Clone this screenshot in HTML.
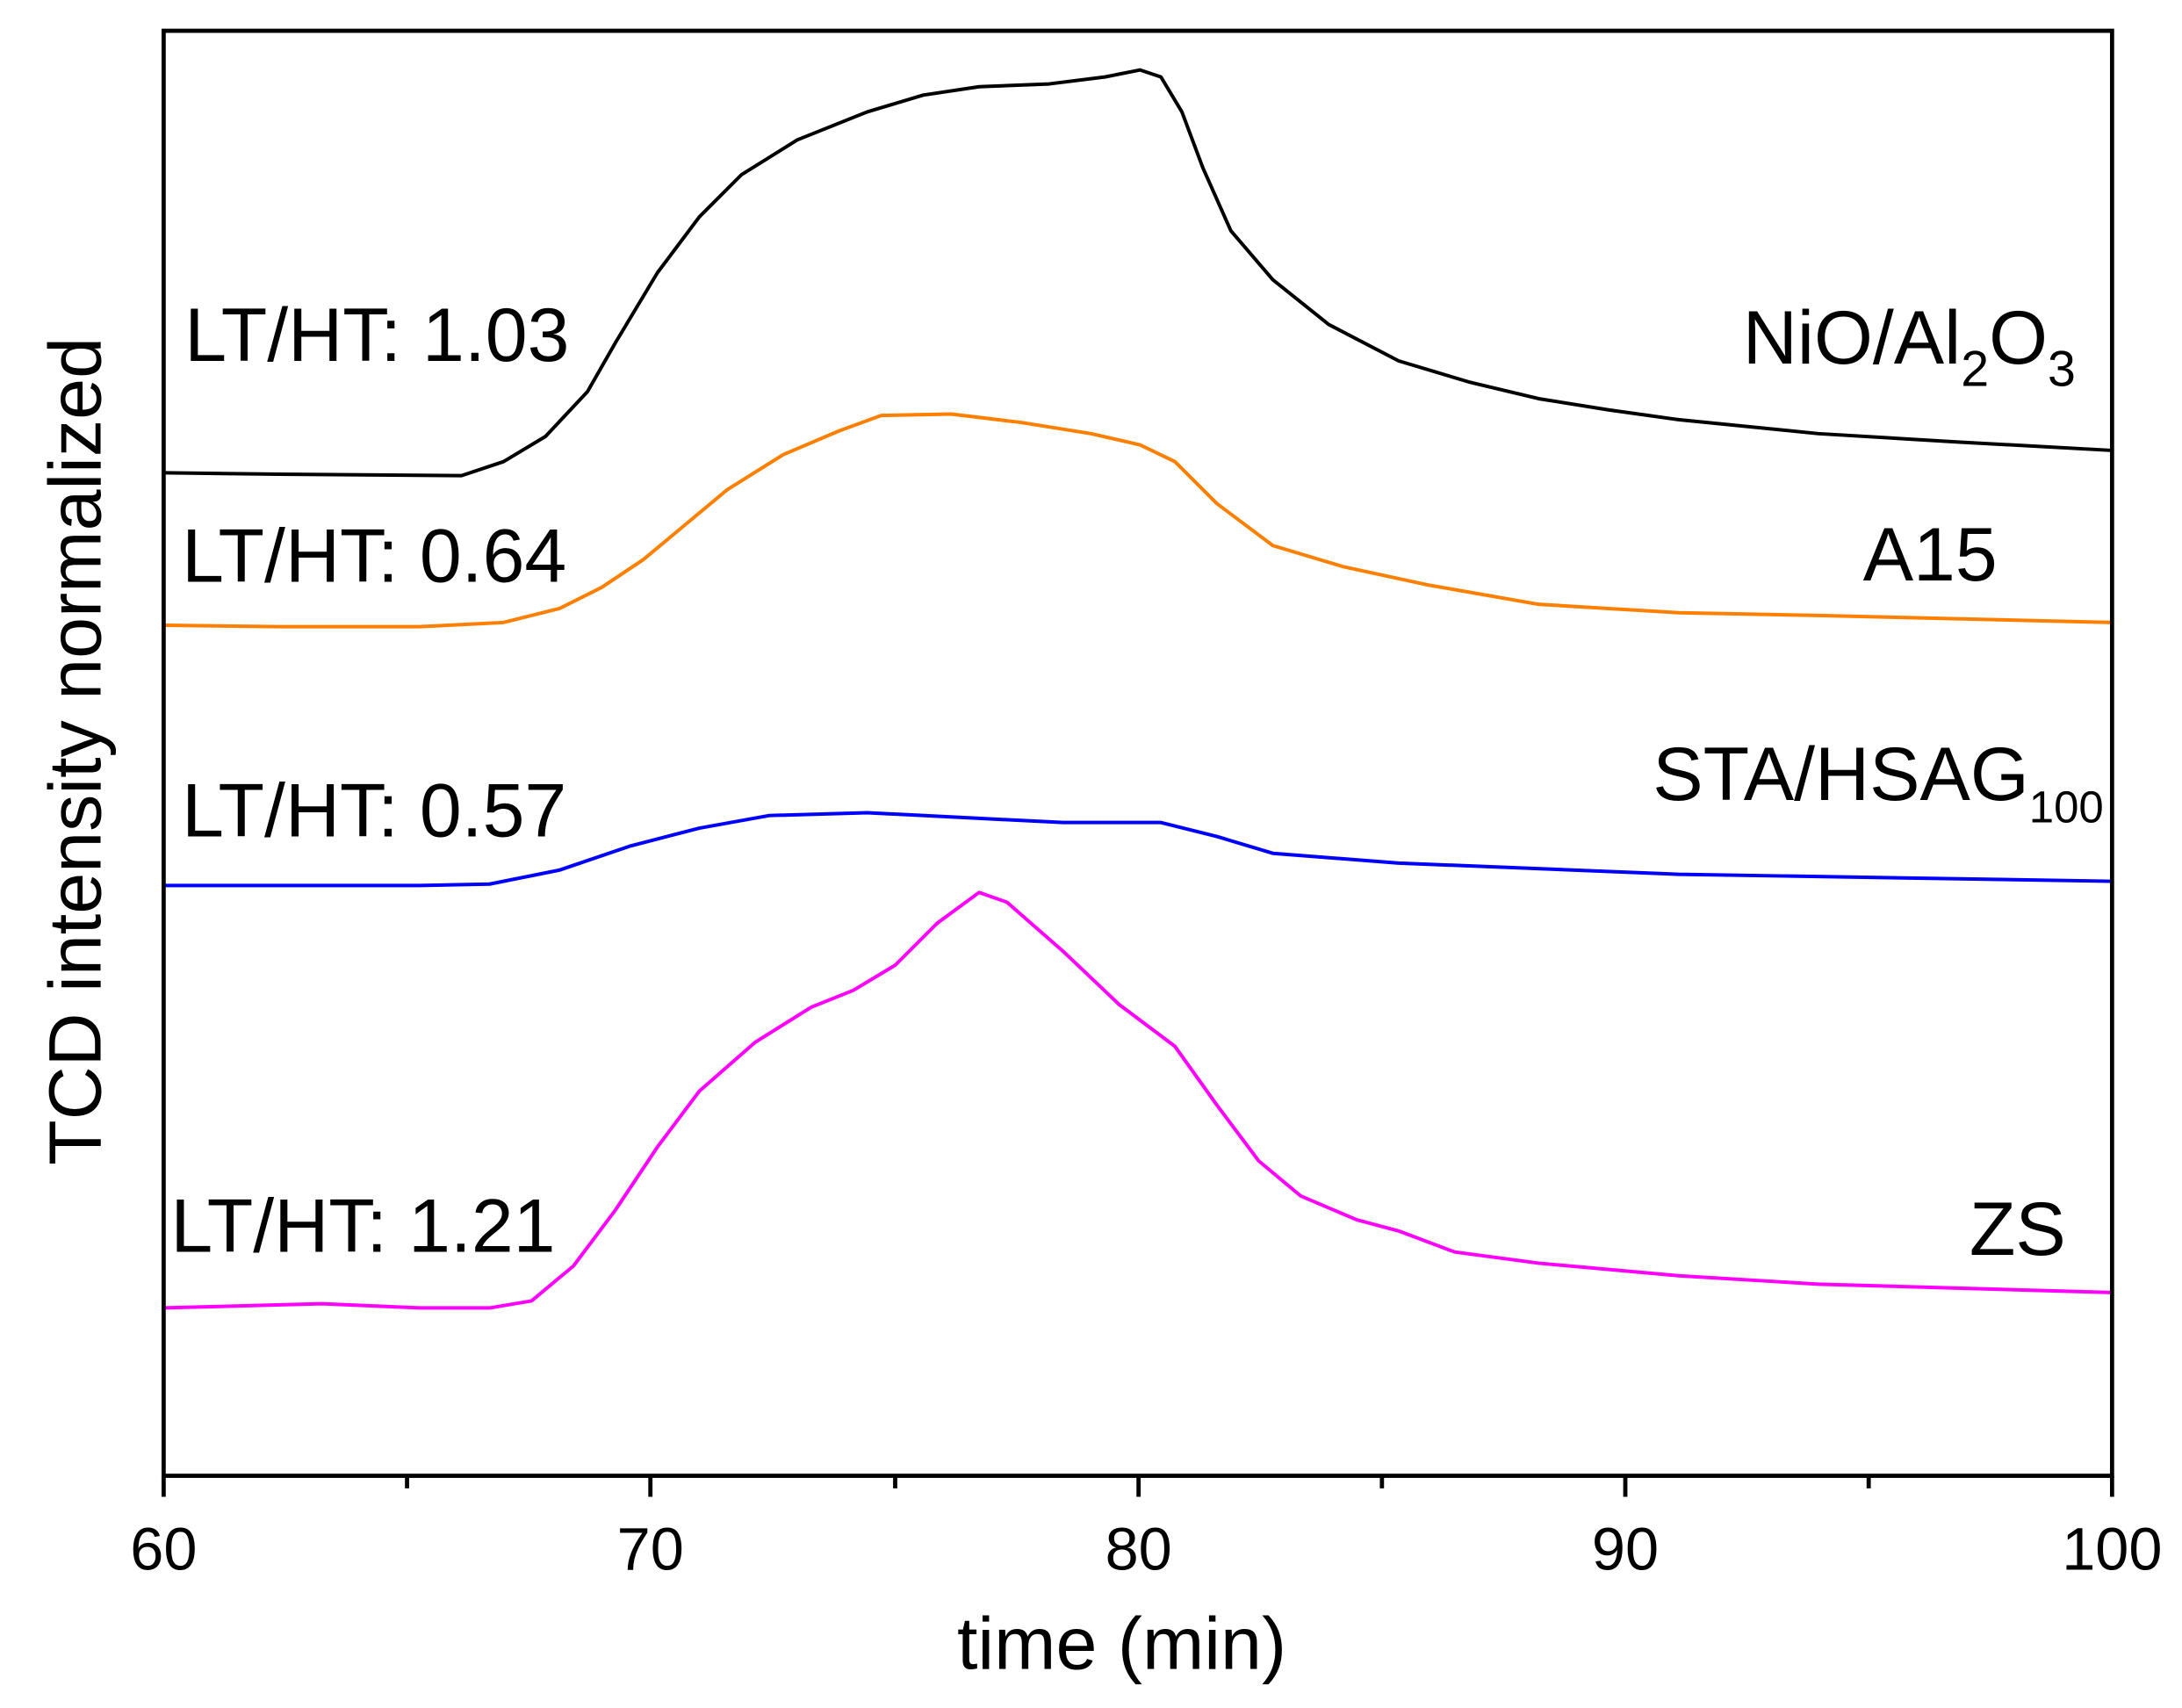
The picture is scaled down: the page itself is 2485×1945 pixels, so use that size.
<!DOCTYPE html>
<html><head><meta charset="utf-8"><style>
html,body{margin:0;padding:0;background:#fff;}
svg{display:block;}
text{font-family:"Liberation Sans",Arial,sans-serif;fill:#000;}
</style></head><body>
<svg width="2485" height="1945" viewBox="0 0 1560 1221" xmlns="http://www.w3.org/2000/svg">
<rect width="1560" height="1221" fill="#fff"/>
<g fill="none" stroke-width="2.5" stroke-linejoin="round">
<polyline stroke="#000" points="117,338 200,339 330,340 360,330 390,312 420,280 440,245 470,195 500,155 530,125 570,100 620,80 660,68 700,62 750,60 790,55 815,50 830,55 845,80 860,120 880,165 910,200 950,232 1000,258 1050,273 1100,285 1150,293 1200,300 1300,310 1400,316 1510,322"/>
<polyline stroke="#ff8000" points="117,447 200,448 300,448 360,445 400,435 430,420 460,400 490,375 520,350 560,325 600,308 630,297 680,296 730,302 780,310 815,318 840,330 870,360 910,390 960,405 1020,418 1100,432 1200,438 1300,440 1510,445"/>
<polyline stroke="#0000ff" points="117,633 300,633 350,632 400,622 450,605 500,592 550,583 620,581 700,585 760,588 830,588 870,598 910,610 1000,617 1200,625 1510,630"/>
<polyline stroke="#ff00ff" points="117,935 230,932 300,935 350,935 380,930 410,905 440,865 470,820 500,780 540,745 580,720 610,708 640,690 670,660 700,638 720,645 760,680 800,718 840,748 870,790 900,830 930,855 970,872 1000,880 1040,895 1100,903 1200,912 1300,918 1510,924"/>
</g>
<g stroke="#000" stroke-width="3" fill="none">
<rect x="117" y="22" width="1393" height="1033"/>
<path d="M117,1055v15M465,1055v15M814,1055v15M1162,1055v15M1510,1055v15M291,1055v9M640,1055v9M988,1055v9M1336,1055v9"/>
</g>
<g font-size="43" text-anchor="middle">
<text x="117" y="1122">60</text><text x="465" y="1122">70</text><text x="814" y="1122">80</text><text x="1162" y="1122">90</text><text x="1510" y="1122">100</text>
</g>
<text x="802" y="1193" font-size="53" text-anchor="middle">time (min)</text>
<text transform="translate(72,537) rotate(-90)" font-size="53" text-anchor="middle">TCD intensity normalized</text>
<g font-size="54">
<text x="132" y="258">LT/HT: 1.03</text>
<text x="130" y="416">LT/HT: 0.64</text>
<text x="130" y="598">LT/HT: 0.57</text>
<text x="122" y="895">LT/HT: 1.21</text>
<text x="1484" y="260" text-anchor="end">NiO/Al<tspan font-size="36" dy="16">2</tspan><tspan dy="-16">O</tspan><tspan font-size="36" dy="16">3</tspan></text>
<text x="1428" y="415" text-anchor="end">A15</text>
<text x="1504" y="572" text-anchor="end">STA/HSAG<tspan font-size="32" dy="16">100</tspan></text>
<text x="1477" y="897" text-anchor="end">ZS</text>
</g>
</svg>
</body></html>
